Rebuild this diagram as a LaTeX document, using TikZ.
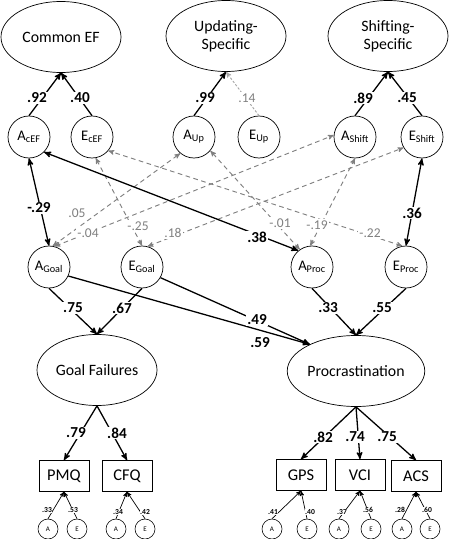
\documentclass[tikz,border=0pt]{standalone}
\usepackage{fontspec}
\setmainfont{Carlito}
\usetikzlibrary{arrows,shapes.geometric}

\begin{document}
\begin{tikzpicture}[x=0.03cm,y=-0.03cm,>=stealth',
  latent/.style={ellipse,draw,line width=0.6pt,minimum width=3.6cm,minimum height=2.13cm,inner sep=0pt,align=center,font=\fontsize{13.5}{15.5}\selectfont},
  ae node/.style={circle,draw,line width=0.6pt,minimum size=1.26cm,inner sep=0pt,font=\fontsize{12.5}{14}\selectfont},
  small node/.style={circle,draw,line width=0.5pt,minimum size=0.6cm,inner sep=0pt,font=\fontsize{6}{7}\selectfont},
  obs node/.style={rectangle,draw,line width=0.6pt,minimum width=1.5cm,minimum height=0.93cm,font=\fontsize{14}{16}\selectfont},
  path/.style={->,line width=1.1pt},
  path2/.style={<->,line width=1.1pt},
  corr/.style={<->,gray,line width=0.8pt,dash pattern=on 4pt off 3pt},
  small path/.style={->,line width=0.6pt},
  est/.style={fill=white,inner sep=1pt,font=\bfseries\fontsize{13}{15}\selectfont},
  ns est/.style={fill=white,inner sep=1pt,text=gray,font=\fontsize{11.5}{13}\selectfont},
  small est/.style={fill=white,inner sep=0.5pt,font=\bfseries\fontsize{6.5}{7.5}\selectfont}]

  \useasboundingbox (0,0) rectangle (450,539);

  % executive function factors
  \node[latent] (cEF) at (61,37) {Common EF};
  \node[latent] (upd) at (226,36) {Updating-\\Specific};
  \node[latent] (shf) at (388,36) {Shifting-\\Specific};

  \node[ae node] (AcEF) at (29,137) {A\textsubscript{cEF}};
  \node[ae node] (EcEF) at (92,137) {E\textsubscript{cEF}};
  \node[ae node] (AUp) at (194,137) {A\textsubscript{Up}};
  \node[ae node] (EUp) at (259,137) {E\textsubscript{Up}};
  \node[ae node] (AShift) at (355,137) {A\textsubscript{Shift}};
  \node[ae node] (EShift) at (422,137) {E\textsubscript{Shift}};

  \node[ae node] (AGoal) at (49,267) {A\textsubscript{Goal}};
  \node[ae node] (EGoal) at (142,267) {E\textsubscript{Goal}};
  \node[ae node] (AProc) at (312,267) {A\textsubscript{Proc}};
  \node[ae node] (EProc) at (406,267) {E\textsubscript{Proc}};

  \node[latent] (goal) at (97,370) {Goal Failures};
  \node[latent] (proc) at (356,371) {Procrastination};

  \node[obs node] (PMQ) at (64,476) {PMQ};
  \node[obs node] (CFQ) at (127,476) {CFQ};
  \node[obs node] (GPS) at (301,475) {GPS};
  \node[obs node] (VCI) at (360,475) {VCI};
  \node[obs node] (ACS) at (416,476) {ACS};

  \node[small node] (aPMQ) at (48,529) {A};
  \node[small node] (ePMQ) at (77,529) {E};
  \node[small node] (aCFQ) at (116,529) {A};
  \node[small node] (eCFQ) at (145,529) {E};
  \node[small node] (aGPS) at (272,529) {A};
  \node[small node] (eGPS) at (307,529) {E};
  \node[small node] (aVCI) at (339,529) {A};
  \node[small node] (eVCI) at (371,529) {E};
  \node[small node] (aACS) at (402,529) {A};
  \node[small node] (eACS) at (430,529) {E};

  % correlations
  \path[corr]
    (AGoal.80) edge (AUp.230)
    (AGoal.75) edge (AShift.175)
    (EGoal.north) edge (EcEF.-80)
    (EGoal.75) edge (EShift.210)
    (AProc.125) edge (AUp.-40)
    (AProc.95) edge (AShift.-90)
    (EProc.100) edge (EcEF.-40);
  \path[path2]
    (AcEF.south) edge (AGoal.north)
    (AcEF.-45) edge (AProc.130)
    (EShift.south) edge (EProc.north);

  % loadings
  \path[path]
    (AcEF.north) edge (cEF.south)
    (EcEF.north) edge (cEF.south)
    (AUp.north) edge (upd.south)
    (AShift.north) edge (shf.south)
    (EShift.north) edge (shf.south)
    (AGoal.south) edge (goal.north)
    (EGoal.south) edge (goal.north)
    (AProc.south) edge (proc.north)
    (EProc.south) edge (proc.north)
    (AGoal.-25) edge (proc.150)
    (EGoal.-30) edge (proc.150)
    (goal.south) edge (PMQ.north)
    (goal.south) edge (CFQ.north)
    (proc.south) edge (GPS.north)
    (proc.south) edge (VCI.north)
    (proc.south) edge (ACS.north);
  \draw[->,gray!70,line width=0.8pt,dash pattern=on 2pt off 1.5pt] (EUp.north) -- (upd.south);

  \path[small path]
    (aPMQ.north) edge (PMQ.south)
    (ePMQ.north) edge (PMQ.south)
    (aCFQ.north) edge (CFQ.south)
    (eCFQ.north) edge (CFQ.south)
    (aGPS.north) edge (GPS.south)
    (eGPS.north) edge (GPS.south)
    (aVCI.north) edge (VCI.south)
    (eVCI.north) edge (VCI.south)
    (aACS.north) edge (ACS.south)
    (eACS.north) edge (ACS.south);

  % estimates
  \node[est] (l1) at (37,98) {.92};
  \node[est] (l2) at (80,98) {.40};
  \node[est] (l3) at (205,98) {.99};
  \node[ns est] (l4) at (247,98) {.14};
  \node[est] (l5) at (363,98) {.89};
  \node[est] (l6) at (407,98) {.45};

  \node[est] (r1) at (39,208) {-.29};
  \node[est] (r2) at (257,237) {.38};
  \node[est] (r3) at (412,213) {.36};
  \node[ns est] (r4) at (77,213) {.05};
  \node[ns est] (r5) at (88,233) {-.04};
  \node[ns est] (r6) at (138,226) {-.25};
  \node[ns est] (r7) at (173,233) {.18};
  \node[ns est] (r8) at (280,223) {-.01};
  \node[ns est] (r9) at (317,225) {-.19};
  \node[ns est] (r10) at (370,233) {-.22};

  \node[est] (g1) at (73,308) {.75};
  \node[est] (g2) at (122,308) {.67};
  \node[est] (p1) at (328,308) {.33};
  \node[est] (p2) at (382,308) {.55};
  \node[est] (b1) at (257,320) {.49};
  \node[est] (b2) at (260,343) {.59};

  \node[est] (m1) at (76,433) {.79};
  \node[est] (m2) at (117,433) {.84};
  \node[est] (m3) at (323,437) {.82};
  \node[est] (m4) at (355,437) {.74};
  \node[est] (m5) at (387,437) {.75};

  \node[small est] (s1) at (47,510) {.33};
  \node[small est] (s2) at (73,510) {.53};
  \node[small est] (s3) at (118,512) {.34};
  \node[small est] (s4) at (145,512) {.42};
  \node[small est] (s5) at (273,512) {.41};
  \node[small est] (s6) at (310,512) {.40};
  \node[small est] (s7) at (342,512) {.37};
  \node[small est] (s8) at (368,510) {.56};
  \node[small est] (s9) at (400,510) {.28};
  \node[small est] (s10) at (427,510) {.60};
\end{tikzpicture}
\end{document}
